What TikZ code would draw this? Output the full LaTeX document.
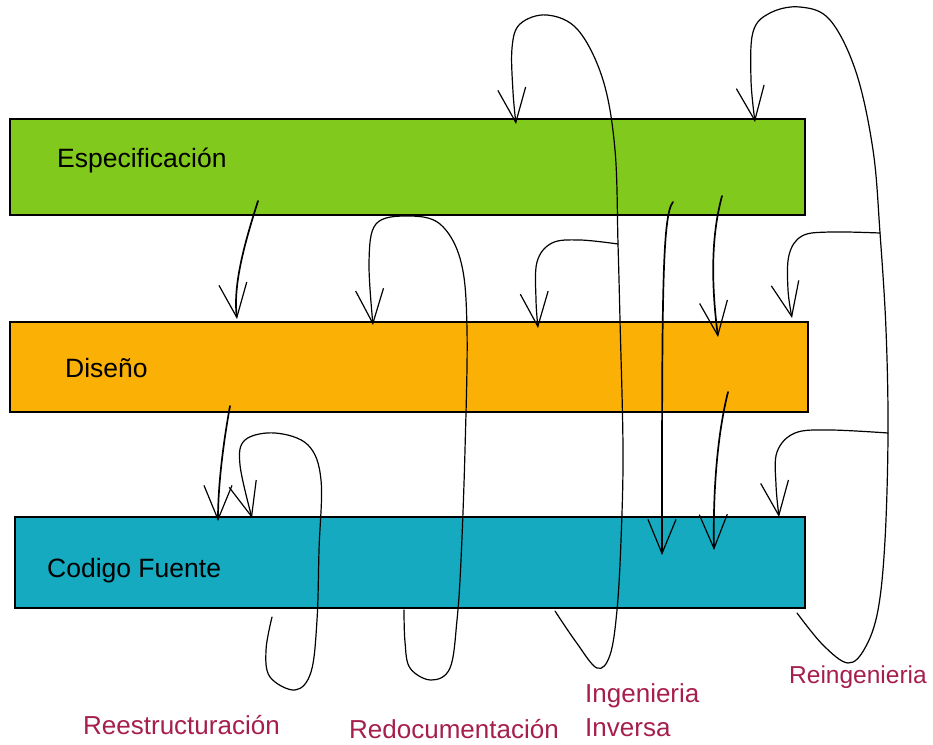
\documentclass[tikz,border=0pt]{standalone}
\usepackage{fontspec}
\setmainfont{Liberation Sans}
\usetikzlibrary{arrows.meta}

\definecolor{specgreen}{HTML}{82C91E}
\definecolor{disorange}{HTML}{FAB005}
\definecolor{codteal}{HTML}{15AABF}
\definecolor{labelred}{HTML}{A61E4D}

\tikzset{
  layer/.style={draw=black, line width=1.6pt, inner sep=0pt},
  barlabel/.style={anchor=west, inner sep=0pt, font=\fontsize{26.5}{30}\selectfont},
  proclabel/.style={anchor=west, inner sep=0pt, align=left, text=labelred,
    font=\fontsize{26}{34}\selectfont},
  flow/.style={line width=1.2pt, line cap=round,
    -{Straight Barb[length=34pt,width=28pt,line width=1.2pt]}},
  strongflow/.style={flow, line width=1.7pt},
}

\begin{document}
\begin{tikzpicture}[x=1pt,y=-1pt]
\useasboundingbox (0,0) rectangle (933,744);

% the three abstraction levels
\node[layer, fill=specgreen, minimum width=795pt, minimum height=96pt] (spec) at (407.5,167) {};
\node[layer, fill=disorange, minimum width=798pt, minimum height=90pt] (dis) at (409,367) {};
\node[layer, fill=codteal, minimum width=790pt, minimum height=91pt] (cod) at (410,562.5) {};

\node[barlabel] (specT) at (57,160) {Especificación};
\node[barlabel] (disT) at (65,368) {Diseño};
\node[barlabel] (codT) at (47,571) {Codigo Fuente};

% process names
\node[proclabel] (reT) at (83,725) {Reestructuración};
\node[proclabel] (redT) at (349,729) {Redocumentación};
\node[proclabel] (iiT) at (585,710) {Ingenieria\\Inversa};
\node[proclabel, font=\fontsize{24.5}{30}\selectfont] (rgT) at (789,677) {Reingenieria};

% end points of the connectors
\coordinate (a1s) at (258,201);  \coordinate (a1e) at (237,319);
\coordinate (a2s) at (230,406);  \coordinate (a2e) at (218,521);
\coordinate (a3s) at (673,202);  \coordinate (a3e) at (662,555);
\coordinate (a4s) at (722,196);  \coordinate (a4e) at (718,337);
\coordinate (a5s) at (728,392);  \coordinate (a5e) at (714,550);

\coordinate (r0) at (272,617);   \coordinate (rA) at (252,518);
\coordinate (d0) at (404,610);   \coordinate (dA) at (373,325);
\coordinate (i0) at (555,611);   \coordinate (iA) at (516,124);
\coordinate (ib) at (618,244);   \coordinate (iB) at (538,328);
\coordinate (g0) at (797,613);   \coordinate (gA) at (755,122);
\coordinate (gb1) at (880,233);  \coordinate (gB1) at (792,318);
\coordinate (gb2) at (888,433);  \coordinate (gB2) at (779,517);

% forward engineering steps
\draw[strongflow] (a1s) .. controls (244,245) and (233,285) .. (a1e);
\draw[strongflow] (a2s) .. controls (222,450) and (218,490) .. (a2e);
\draw[strongflow] (a3s) .. controls (662,215) and (662,300) .. (a3e);
\draw[strongflow] (a4s) .. controls (710,240) and (712,290) .. (a4e);
\draw[strongflow] (a5s) .. controls (716,440) and (713,500) .. (a5e);

% Reestructuracion
\draw[flow] plot[smooth, tension=0.6] coordinates {(r0) (266,650) (270,677) (295,690)
  (311,672) (317,620) (319,550) (321,480) (308,445) (275,433) (245,440) (240,465) (rA)};

% Redocumentacion
\draw[flow] plot[smooth, tension=0.6] coordinates {(d0) (405,642) (410,668) (431,680)
  (450,668) (457,620) (461,560) (465,450) (467,330) (461,262) (440,224) (407,216)
  (376,224) (369,262) (dA)};

% Ingenieria Inversa
\draw[flow] plot[smooth, tension=0.6] coordinates {(i0) (576,642) (597,668) (610,655)
  (617,610) (621,540) (623,450) (620,320) (ib) (615,150) (603,80) (578,30) (547,15)
  (520,24) (512,48) (513,92) (iA)};
\draw[flow] plot[smooth, tension=0.6] coordinates {(ib) (580,240) (552,243) (537,262)
  (536,300) (iB)};

% Reingenieria
\draw[flow] plot[smooth, tension=0.6] coordinates {(g0) (823,645) (848,663) (865,648)
  (878,610) (885,540) (gb2) (886,330) (gb1) (873,150) (856,72) (830,20) (800,7)
  (770,13) (753,32) (751,80) (gA)};
\draw[flow] plot[smooth, tension=0.6] coordinates {(gb1) (830,232) (802,236) (789,255)
  (788,290) (gB1)};
\draw[flow] plot[smooth, tension=0.6] coordinates {(gb2) (830,430) (795,433) (777,452)
  (776,485) (gB2)};
\end{tikzpicture}
\end{document}
